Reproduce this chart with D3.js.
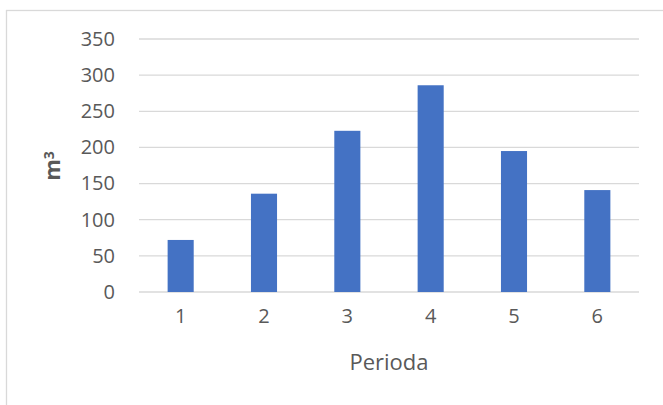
<!DOCTYPE html>
<html>
<head>
<meta charset="utf-8">
<script src="https://cdn.jsdelivr.net/npm/d3@7"></script>
<style>
  html, body { margin: 0; padding: 0; background: #fff; }
  svg { display: block; }
</style>
</head>
<body>
<svg id="chart" width="663" height="405"></svg>
<script>
const categories = ["1", "2", "3", "4", "5", "6"];
const values = [72, 136, 223, 286, 195, 141];
const yTicks = [0, 50, 100, 150, 200, 250, 300, 350];
const xTitle = "Perioda";
const yTitle = "m";
const yTitleSup = "3";

const svg = d3.select("#chart");
const W = 663, H = 405;
const margin = { left: 139, right: 24, top: 39, bottom: 113 };
const plotW = W - margin.left - margin.right;
const plotH = H - margin.top - margin.bottom;

// outer chart border
svg.append("rect")
  .attr("x", 6.5).attr("y", 10.5)
  .attr("width", 700).attr("height", 500)
  .attr("fill", "#fff").attr("stroke", "#d9d9d9").attr("stroke-width", 1.3);

const g = svg.append("g").attr("transform", `translate(${margin.left},${margin.top})`);

const x = d3.scaleBand().domain(categories).range([0, plotW]).paddingInner(0.687).paddingOuter(0.3435);
const y = d3.scaleLinear().domain([0, 350]).range([plotH, 0]);

const font = "'Open Sans', sans-serif";

// gridlines
g.append("g")
  .selectAll("line").data(yTicks).join("line")
  .attr("x1", 0).attr("x2", plotW)
  .attr("y1", d => y(d)).attr("y2", d => y(d))
  .attr("stroke", "#d9d9d9").attr("stroke-width", 1.3);

// y axis labels
const yAxis = g.append("g").call(d3.axisLeft(y).tickValues(yTicks).tickSize(0).tickPadding(24));
yAxis.select(".domain").remove();
yAxis.selectAll("text")
  .attr("fill", "#595959").style("font-family", font).style("font-size", "20px");

// bars
g.append("g").selectAll("rect").data(values).join("rect")
  .attr("x", (d, i) => x(categories[i]))
  .attr("y", d => y(d))
  .attr("width", x.bandwidth())
  .attr("height", d => plotH - y(d))
  .attr("fill", "#4472c4");

// x axis labels
const xAxis = g.append("g").attr("transform", `translate(0,${plotH})`)
  .call(d3.axisBottom(x).tickSize(0).tickPadding(17));
xAxis.select(".domain").remove();
xAxis.selectAll("text")
  .attr("fill", "#595959").style("font-family", font).style("font-size", "20px");

// x title
svg.append("text")
  .attr("x", margin.left + plotW / 2).attr("y", 370)
  .attr("text-anchor", "middle")
  .attr("fill", "#595959").style("font-family", font).style("font-size", "22px")
  .text(xTitle);

// y title
const yt = svg.append("text")
  .attr("transform", "translate(60,166) rotate(-90)")
  .attr("text-anchor", "middle")
  .attr("fill", "#595959").style("font-family", font).style("font-size", "22px").style("font-weight", "bold");
yt.append("tspan").text(yTitle);
yt.append("tspan").attr("dy", "-0.45em").style("font-size", "14px").text(yTitleSup);
</script>
</body>
</html>
